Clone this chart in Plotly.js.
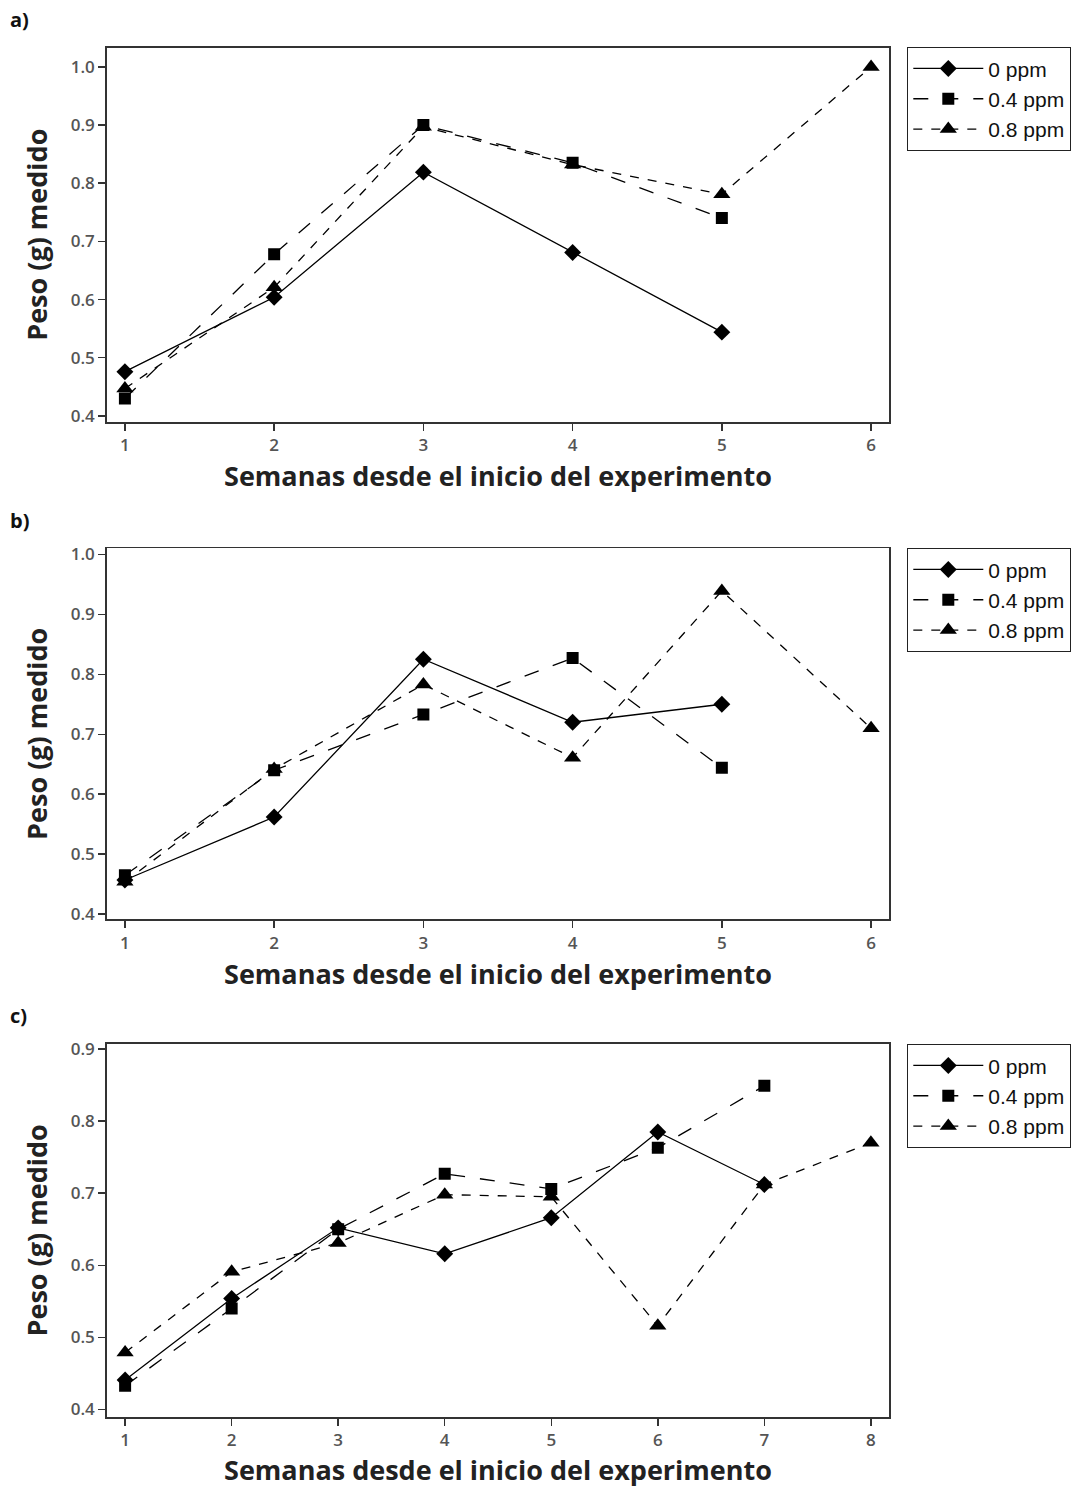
<!DOCTYPE html>
<html>
<head>
<meta charset="utf-8">
<script src="https://cdn.plot.ly/plotly-3.0.1.min.js"></script>
<style>html,body{margin:0;padding:0;background:#fff;}#chart{width:1089px;height:1488px;}</style>
</head>
<body>
<div id="chart"></div>
<script>
// Series names
const seriesNames = ["0 ppm", "0.4 ppm", "0.8 ppm"];

// Panel a)
const weeksA0 = [1, 2, 3, 4, 5];
const weeksA4 = [1, 2, 3, 4, 5];
const weeksA8 = [1, 2, 3, 4, 5, 6];
const pesoA0 = [0.476, 0.604, 0.819, 0.681, 0.544];
const pesoA4 = [0.430, 0.678, 0.900, 0.835, 0.740];
const pesoA8 = [0.447, 0.621, 0.897, 0.832, 0.781, 1.000];

// Panel b)
const weeksB0 = [1, 2, 3, 4, 5];
const weeksB4 = [1, 2, 3, 4, 5];
const weeksB8 = [1, 2, 3, 4, 5, 6];
const pesoB0 = [0.457, 0.562, 0.825, 0.720, 0.750];
const pesoB4 = [0.465, 0.640, 0.733, 0.827, 0.644];
const pesoB8 = [0.454, 0.642, 0.783, 0.661, 0.939, 0.710];

// Panel c)
const weeksC0 = [1, 2, 3, 4, 5, 6, 7];
const weeksC4 = [1, 2, 3, 4, 5, 6, 7];
const weeksC8 = [1, 2, 3, 4, 5, 6, 7, 8];
const pesoC0 = [0.441, 0.554, 0.652, 0.616, 0.666, 0.785, 0.712];
const pesoC4 = [0.433, 0.540, 0.650, 0.727, 0.706, 0.763, 0.849];
const pesoC8 = [0.479, 0.591, 0.631, 0.698, 0.695, 0.516, 0.712, 0.770];

// Tick labels
const xTicksAB = [1, 2, 3, 4, 5, 6];
const xTicksC = [1, 2, 3, 4, 5, 6, 7, 8];
const yTicksAB = [0.4, 0.5, 0.6, 0.7, 0.8, 0.9, 1.0];
const yTicksC = [0.4, 0.5, 0.6, 0.7, 0.8, 0.9];

const panelLabels = ["a)", "b)", "c)"];
const xTitle = "Semanas desde el inicio del experimento";
const yTitle = "Peso (g) medido";

const styles = [
  {symbol: "diamond", size: 13, dash: "solid"},
  {symbol: "square", size: 12, dash: "longdash"},
  {symbol: "triangle-up", size: 15, dash: "dash"}
];

function mk(x, y, i, xa, ya, leg) {
  return {
    x: x, y: y, name: seriesNames[i], type: "scatter", mode: "lines+markers",
    xaxis: xa, yaxis: ya, legend: leg,
    line: {color: "#000", width: 1.3, dash: styles[i].dash},
    marker: {color: "#000", symbol: styles[i].symbol, size: styles[i].size}
  };
}

const data = [
  mk(weeksA0, pesoA0, 0, "x", "y", "legend"),
  mk(weeksA4, pesoA4, 1, "x", "y", "legend"),
  mk(weeksA8, pesoA8, 2, "x", "y", "legend"),
  mk(weeksB0, pesoB0, 0, "x2", "y2", "legend2"),
  mk(weeksB4, pesoB4, 1, "x2", "y2", "legend2"),
  mk(weeksB8, pesoB8, 2, "x2", "y2", "legend2"),
  mk(weeksC0, pesoC0, 0, "x3", "y3", "legend3"),
  mk(weeksC4, pesoC4, 1, "x3", "y3", "legend3"),
  mk(weeksC8, pesoC8, 2, "x3", "y3", "legend3")
];

const W = 1089, H = 1488;
const xDom = [107 / W, 889 / W];
const tickFont = {family: "Open Sans, sans-serif", size: 17, color: "#555", weight: 600};
const titleFont = {family: "Open Sans, sans-serif", size: 27, color: "#222", weight: "bold"};

function xaxis(range, ticks, anchor) {
  return {
    domain: xDom, range: range, anchor: anchor, tickvals: ticks,
    ticks: "outside", ticklen: 7, tickwidth: 1.5, tickcolor: "#333",
    showline: true, mirror: true, linecolor: "#333", linewidth: 1.8,
    showgrid: false, zeroline: false, tickfont: tickFont, automargin: false,
    title: {text: "<b>" + xTitle + "</b>", font: titleFont, standoff: 12}
  };
}
function yaxis(dom, range, ticks, anchor) {
  return {
    domain: dom, range: range, anchor: anchor, tickvals: ticks, tickformat: ".1f",
    ticks: "outside", ticklen: 7, tickwidth: 1.5, tickcolor: "#333",
    showline: true, mirror: true, linecolor: "#333", linewidth: 1.8,
    showgrid: false, zeroline: false, tickfont: tickFont, automargin: false,
    title: {text: "<b>" + yTitle + "</b>", font: titleFont, standoff: 15}
  };
}
function legend(yTop) {
  return {
    x: 907 / W, xanchor: "left", y: yTop, yanchor: "top",
    bordercolor: "#222", borderwidth: 1.3, bgcolor: "#fff",
    font: {family: "Liberation Sans, Arial, sans-serif", size: 21, color: "#111"},
    itemwidth: 70, tracegroupgap: 0, traceorder: "normal"
  };
}

const layout = {
  width: W, height: H, margin: {l: 0, r: 0, t: 0, b: 0},
  paper_bgcolor: "#fff", plot_bgcolor: "#fff", showlegend: true,
  xaxis: xaxis([0.88, 6.12], xTicksAB, "y"),
  yaxis: yaxis([1 - 421.7 / H, 1 - 47.7 / H], [0.39, 1.033], yTicksAB, "x"),
  xaxis2: xaxis([0.88, 6.12], xTicksAB, "y2"),
  yaxis2: yaxis([1 - 919.3 / H, 1 - 548.3 / H], [0.3915, 1.01], yTicksAB, "x2"),
  xaxis3: xaxis([0.83, 8.17], xTicksC, "y3"),
  yaxis3: yaxis([1 - 1416.7 / H, 1 - 1044 / H], [0.39, 0.907], yTicksC, "x3"),
  legend: legend(1 - 47 / H),
  legend2: legend(1 - 548 / H),
  legend3: legend(1 - 1044 / H),
  annotations: [
    {text: "<b>" + panelLabels[0] + "</b>", x: 8 / W, y: 1 - 20 / H},
    {text: "<b>" + panelLabels[1] + "</b>", x: 8 / W, y: 1 - 520 / H},
    {text: "<b>" + panelLabels[2] + "</b>", x: 8 / W, y: 1 - 1015 / H}
  ].map(a => Object.assign(a, {xref: "paper", yref: "paper", xanchor: "left", yanchor: "middle",
      showarrow: false, font: {family: "Open Sans, sans-serif", size: 20, color: "#111"}}))
};

Plotly.newPlot("chart", data, layout, {displayModeBar: false, staticPlot: true});
</script>
</body>
</html>
